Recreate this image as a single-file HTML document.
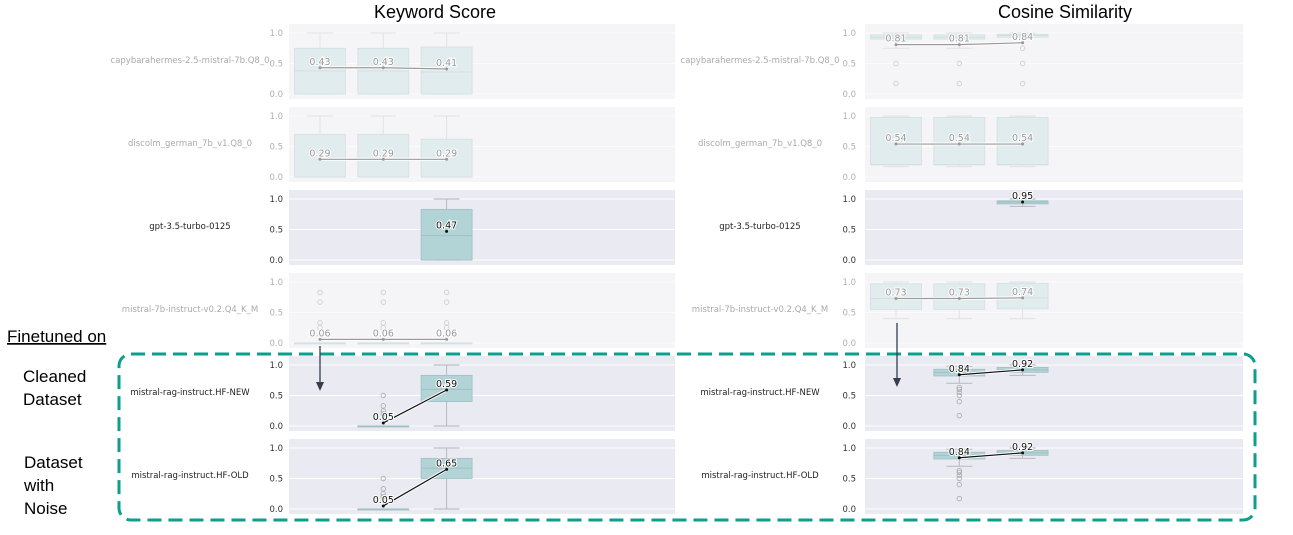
<!DOCTYPE html>
<html><head><meta charset="utf-8">
<style>
body{margin:0;background:#fff;width:1293px;height:530px;overflow:hidden;font-family:"Liberation Sans",sans-serif}
svg text{font-family:"DejaVu Sans","Liberation Sans",sans-serif}
</style></head>
<body>
<svg id="chart" width="1293" height="530" xmlns="http://www.w3.org/2000/svg">
<text x="435" y="18" font-size="18" text-anchor="middle" fill="#000" style="font-family:'Liberation Sans',sans-serif">Keyword Score</text>
<text x="1065" y="18" font-size="18" text-anchor="middle" fill="#000" style="font-family:'Liberation Sans',sans-serif">Cosine Similarity</text>
<g id="plots"></g>
<text x="7" y="342" font-size="17" fill="#000" text-decoration="underline" style="font-family:'Liberation Sans',sans-serif">Finetuned on</text>
<text font-size="17" fill="#000" style="font-family:'Liberation Sans',sans-serif"><tspan x="23" y="382">Cleaned</tspan><tspan x="23" y="405">Dataset</tspan></text>
<text font-size="17" fill="#000" style="font-family:'Liberation Sans',sans-serif"><tspan x="24" y="468">Dataset</tspan><tspan x="24" y="491">with</tspan><tspan x="24" y="514">Noise</tspan></text>
<rect x="119" y="354" width="1136" height="166" rx="12" fill="none" stroke="#0d9e8c" stroke-width="3" stroke-dasharray="14 7"/>
<g><line x1="320" y1="346" x2="320" y2="384" stroke="#333f50" stroke-width="1.3"/><path d="M316 382 L324 382 L320 391 Z" fill="#333f50"/></g>
<g><line x1="897" y1="323" x2="897" y2="380" stroke="#333f50" stroke-width="1.3"/><path d="M893 378 L901 378 L897 387 Z" fill="#333f50"/></g>
</svg>
<script>
const models=["capybarahermes-2.5-mistral-7b.Q8_0","discolm_german_7b_v1.Q8_0","gpt-3.5-turbo-0125","mistral-7b-instruct-v0.2.Q4_K_M","mistral-rag-instruct.HF-NEW","mistral-rag-instruct.HF-OLD"];
const active=[false,false,true,false,true,true];
const yTicks=[0,0.5,1];
// each box: [whiskerLo,q1,median,q3,whiskerHi,mean] or null
const keywordBoxes=[
 [[0,0,0.38,0.75,1,0.43],[0,0,0.38,0.75,1,0.43],[0,0,0.36,0.77,1,0.41]],
 [[0,0,0,0.70,1,0.29],[0,0,0,0.70,1,0.29],[0,0,0,0.62,1,0.29]],
 [null,null,[0,0,0.4,0.83,1,0.47]],
 [[0,0,0,0,0,0.06],[0,0,0,0,0,0.06],[0,0,0,0,0,0.06]],
 [null,[0,0,0,0,0,0.05],[0,0.4,0.6,0.83,1,0.59]],
 [null,[0,0,0,0,0,0.05],[0,0.5,0.67,0.83,1,0.65]]
];
const keywordOutliers=[
 [[],[],[]],[[],[],[]],[[],[],[]],
 [[0.83,0.67,0.33,0.25],[0.83,0.67,0.33,0.25],[0.83,0.67,0.33,0.25]],
 [[],[0.5,0.33,0.25,0.2],[]],
 [[],[0.5,0.33,0.25,0.2],[]]
];
const cosineBoxes=[
 [[0.75,0.9,0.93,0.97,1,0.81],[0.75,0.9,0.93,0.97,1,0.81],[0.93,0.93,0.96,0.98,1,0.84]],
 [[0.17,0.2,0.2,0.98,1,0.54],[0.17,0.2,0.2,0.98,1,0.54],[0.17,0.2,0.2,0.98,1,0.54]],
 [null,null,[0.88,0.92,0.95,0.97,1,0.95]],
 [[0.4,0.55,0.73,0.97,1,0.73],[0.4,0.55,0.73,0.97,1,0.73],[0.4,0.56,0.74,0.98,1,0.74]],
 [null,[0.7,0.82,0.88,0.93,0.98,0.84],[0.83,0.88,0.92,0.96,1,0.92]],
 [null,[0.7,0.82,0.88,0.93,0.98,0.84],[0.83,0.88,0.92,0.96,1,0.92]]
];
const cosineOutliers=[
 [[0.5,0.17],[0.5,0.17],[0.75,0.5,0.17]],
 [[],[],[]],[[],[],[]],[[],[],[]],
 [[],[0.63,0.6,0.55,0.5,0.4,0.17],[]],
 [[],[0.63,0.6,0.55,0.5,0.4,0.17],[]]
];
const NS="http://www.w3.org/2000/svg";
const root=document.getElementById('plots');
function mk(tag,attrs,parent){const e=document.createElementNS(NS,tag);for(const k in attrs)e.setAttribute(k,attrs[k]);parent.appendChild(e);return e;}
function drawPanel(side,boxes,outs){
 const px0=side===0?289:865, px1=side===0?675:1243;
 const c0=side===0?320:896, dc=63.3, bw=51;
 const labelX=side===0?190:760, tickX=side===0?283:856;
 models.forEach((m,r)=>{
  const top=24+83*r;
  const ys=v=>top+70-61*v;
  const xs=i=>c0+dc*i;
  const act=active[r];
  const g=mk('g',{},root);
  
  
  mk('rect',{x:px0,y:top,width:px1-px0,height:75,fill:act?'#eaeaf2':'#f5f5f7'},g);
  const txtC=act?'#333':'#b0b0b0', lineC=act?'#fff':'#fbfbfc';
  yTicks.forEach(t=>{
   mk('line',{x1:px0,x2:px1,y1:ys(t),y2:ys(t),stroke:lineC,'stroke-width':1},g);
   const tt=mk('text',{x:tickX,y:ys(t)+3,'font-size':8.5,'text-anchor':'end',fill:txtC},g);tt.textContent=t.toFixed(1);
  });
  const lab=mk('text',{x:labelX,y:top+39,'font-size':8.5,'text-anchor':'middle',fill:act?'#222':'#aaa'},g);
  lab.textContent=m;
  
  
  const fill=act?'#b3d4d6':'#e0ecee', edge=act?'#9fbfc2':'#d2e0e2', wc=act?'#b8b8c0':'#e2e2e6';
  const means=[];
  boxes[r].forEach((b,i)=>{
   if(!b)return;
   const x=xs(i);
   const bg=mk('g',{},g);
   
   
   mk('line',{x1:x,x2:x,y1:ys(b[4]),y2:ys(b[3]),stroke:wc},bg);
   mk('line',{x1:x,x2:x,y1:ys(b[1]),y2:ys(b[0]),stroke:wc},bg);
   mk('line',{x1:x-13,x2:x+13,y1:ys(b[4]),y2:ys(b[4]),stroke:wc},bg);
   mk('line',{x1:x-13,x2:x+13,y1:ys(b[0]),y2:ys(b[0]),stroke:wc},bg);
   mk('rect',{x:x-bw/2,y:ys(b[3]),width:bw,height:Math.max(1,ys(b[1])-ys(b[3])),fill:fill,stroke:edge,'stroke-width':0.8},bg);
   mk('line',{x1:x-bw/2,x2:x+bw/2,y1:ys(b[2]),y2:ys(b[2]),stroke:edge},bg);
   outs[r][i].forEach(o=>mk('circle',{cx:x,cy:ys(o),r:2.3,fill:'none',stroke:act?'#aaa':'#ccc','stroke-width':0.8},bg));
   means.push([x,ys(b[5]),b[5]]);
  });
  const mc=act?'#111':'#999';
  for(let k=1;k<means.length;k++){
   mk('line',{x1:means[k-1][0],y1:means[k-1][1],x2:means[k][0],y2:means[k][1],stroke:'#fff','stroke-width':3},g);
   mk('line',{x1:means[k-1][0],y1:means[k-1][1],x2:means[k][0],y2:means[k][1],stroke:mc,'stroke-width':1.2},g);
  }
  means.forEach(p=>{
   mk('circle',{cx:p[0],cy:p[1],r:1.5,fill:mc},g);
   const t=mk('text',{x:p[0],y:p[1]-3,'font-size':9.5,'text-anchor':'middle',fill:act?'#111':'#999',stroke:'#fff','stroke-width':2,'paint-order':'stroke'},g);
   t.textContent=p[2].toFixed(2);
   
   
  });
 });
}
drawPanel(0,keywordBoxes,keywordOutliers);
drawPanel(1,cosineBoxes,cosineOutliers);
</script>
</body></html>
